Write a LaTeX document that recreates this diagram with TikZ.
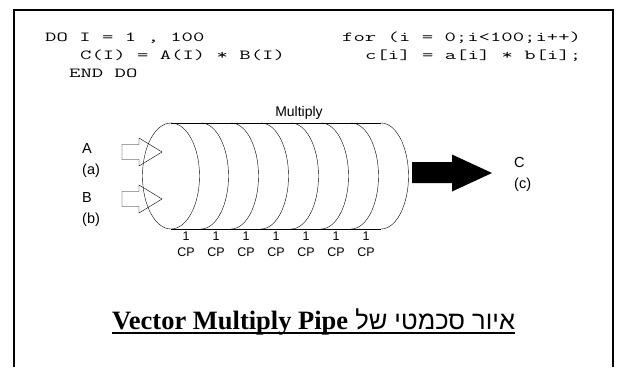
\documentclass[tikz,border=0pt]{standalone}
\usepackage{fontspec}
\usepackage{graphicx}
\setmainfont{Liberation Serif}
\setsansfont{Liberation Sans}
\newfontfamily\hebfont[Script=Hebrew]{Liberation Sans}
\TeXXeTstate=1
\usepackage{tikz}

% wide typewriter lines
\newcommand\codewide[1]{\scalebox{1.6}[1]{#1}}

\begin{document}
\begin{tikzpicture}[x=1pt,y=-1pt,
  lbl/.style={font=\sffamily\fontsize{14.5}{16}\selectfont, inner sep=0, anchor=base west},
  cp/.style={font=\sffamily\fontsize{12.5}{14}\selectfont, inner sep=0, anchor=base},
  code/.style={font=\ttfamily\fontsize{13.8}{17}\selectfont, inner sep=0, anchor=base west}]
  \useasboundingbox (0,0) rectangle (618,367);
  \draw[line width=2pt] (14,367) -- (14,10) -- (613,10) -- (613,367);

  % loop in Fortran and C
  \node[code] (do1) at (45,41) {\codewide{DO I = 1 , 100}};
  \node[code] (do2) at (80,59) {\codewide{C(I) = A(I) * B(I)}};
  \node[code] (do3) at (69,77) {\codewide{END DO}};
  \node[code] (for1) at (342,41) {\codewide{for (i = 0;i<100;i++)}};
  \node[code] (for2) at (365,59) {\codewide{c[i] = a[i] * b[i];}};

  % the pipe
  \node[font=\sffamily\fontsize{14}{16}\selectfont, inner sep=0, anchor=base] (mult) at (299,116.5) {Multiply};
  \draw (171,123) -- (381,123);
  \draw (171,229) -- (381,229);
  \draw (171,176) ellipse [x radius=28.5, y radius=53];
  \foreach \k in {1,...,7}
    \draw (171+30*\k,123) arc [start angle=-90, end angle=90, x radius=27.5, y radius=53];
  \foreach \k in {0,...,6} {
    \node[cp] (one\k) at (186+30*\k,240) {1};
    \node[cp] (cp\k) at (186+30*\k,256.5) {CP};
  }

  % operands in, result out
  \foreach \y in {152,199}
    \draw (122,\y-7.5) -- (139,\y-7.5) -- (139,\y-14) -- (162,\y)
      -- (139,\y+14) -- (139,\y+7.5) -- (122,\y+7.5) -- cycle;
  \fill (412,162) -- (452,162) -- (452,154.5) -- (492,173) -- (452,191.5)
    -- (452,183) -- (412,183) -- cycle;
  \node[lbl] (la) at (82,153.5) {A};
  \node[lbl] (lapar) at (82,174.5) {(a)};
  \node[lbl] (lb) at (82,202.5) {B};
  \node[lbl] (lbpar) at (82,223.5) {(b)};
  \node[lbl] (lc) at (514,167.5) {C};
  \node[lbl] (lcpar) at (514,188.5) {(c)};

  % caption
  \node[inner sep=0, anchor=base west] (title) at (112,329)
    {\hebfont\fontsize{25.5}{30}\selectfont\beginR איור סכמטי של \beginL{\rmfamily\bfseries\fontsize{26.5}{30}\selectfont Vector Multiply Pipe}\endL\endR};
  \draw[line width=2pt] ([yshift=-3.5pt]title.base west) -- ([yshift=-3.5pt]title.base east);
\end{tikzpicture}
\end{document}
